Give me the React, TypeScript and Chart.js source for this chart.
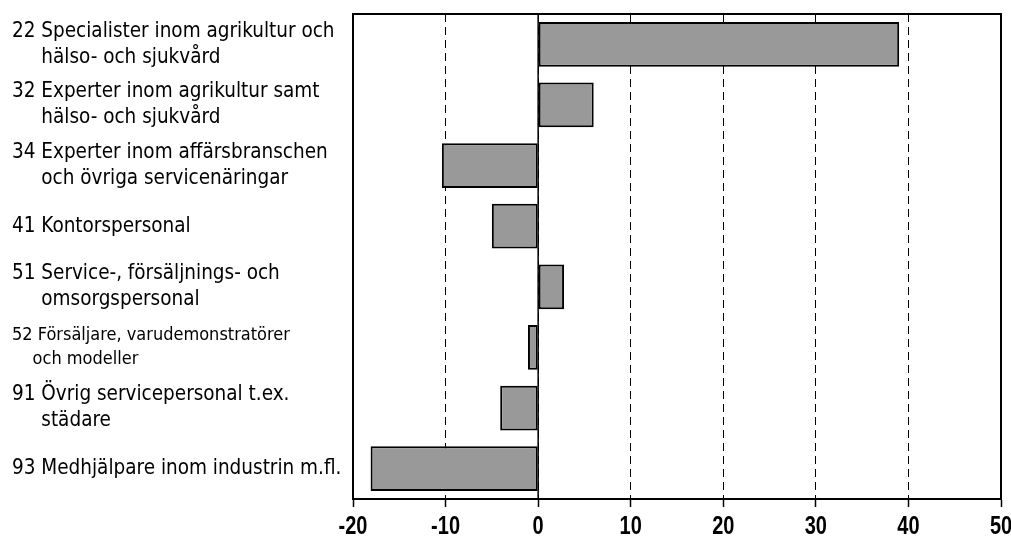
import React, { useEffect, useRef } from 'react';
import { Chart, registerables } from 'chart.js';

Chart.register(...registerables);

const categories: string[][] = [
  ['22 Specialister inom agrikultur och', '     hälso- och sjukvård'],
  ['32 Experter inom agrikultur samt', '     hälso- och sjukvård'],
  ['34 Experter inom affärsbranschen', '     och övriga servicenäringar'],
  ['41 Kontorspersonal'],
  ['51 Service-, försäljnings- och', '     omsorgspersonal'],
  ['52 Försäljare, varudemonstratörer', '    och modeller'],
  ['91 Övrig servicepersonal t.ex.', '     städare'],
  ['93 Medhjälpare inom industrin m.fl.'],
];

const values: number[] = [39, 6, -10.4, -5, 2.8, -1.1, -4.1, -18.1];

const xTicks: number[] = [-20, -10, 0, 10, 20, 30, 40, 50];

const FONT = "'Liberation Sans Narrow', 'Arial Narrow', 'DejaVu Sans Condensed', sans-serif";
const TICK_FONT = "'Liberation Sans', Arial, sans-serif";

const framePlugin = {
  id: 'frame',
  beforeDatasetsDraw(chart: any) {
    const { ctx, chartArea, scales } = chart;
    const x0 = scales.x.getPixelForValue(0);
    ctx.save();
    ctx.strokeStyle = '#000';
    ctx.lineWidth = 1.5;
    ctx.beginPath();
    ctx.moveTo(x0, chartArea.top);
    ctx.lineTo(x0, chartArea.bottom);
    ctx.stroke();
    ctx.restore();
  },
  afterDraw(chart: any) {
    const { ctx, chartArea, scales } = chart;
    ctx.save();
    ctx.strokeStyle = '#000';
    ctx.lineWidth = 2;
    ctx.strokeRect(chartArea.left, chartArea.top, chartArea.right - chartArea.left, chartArea.bottom - chartArea.top);
    ctx.restore();

    // condensed bold x tick labels, positioned by the x scale
    const xs = scales.x;
    ctx.save();
    ctx.fillStyle = '#000';
    ctx.font = `bold 25px ${TICK_FONT}`;
    ctx.textAlign = 'center';
    ctx.textBaseline = 'alphabetic';
    xs.ticks.forEach((t: any) => {
      const px = xs.getPixelForValue(t.value);
      ctx.save();
      ctx.translate(px, chartArea.bottom + 35);
      ctx.scale(0.8, 1);
      ctx.fillText(String(t.value), 0, 0);
      ctx.restore();
    });
    ctx.restore();
  },
};

export default function App() {
  const ref = useRef<HTMLCanvasElement | null>(null);

  useEffect(() => {
    document.body.style.margin = '0';
    const canvas = ref.current;
    if (!canvas) return;
    const chart = new Chart(canvas, {
      type: 'bar',
      data: {
        labels: categories,
        datasets: [
          {
            data: values,
            backgroundColor: '#999999',
            borderColor: '#000',
            borderWidth: 2,
            borderSkipped: false,
            categoryPercentage: 0.74,
            barPercentage: 1,
          },
        ],
      },
      options: {
        indexAxis: 'y',
        animation: false,
        responsive: false,
        maintainAspectRatio: false,
        layout: { padding: { top: 14, right: 10, bottom: 0, left: 12 } },
        plugins: {
          legend: { display: false },
          tooltip: { enabled: false },
        },
        scales: {
          x: {
            type: 'linear',
            min: -20,
            max: 50,
            afterBuildTicks: (scale: any) => {
              scale.ticks = xTicks.map((v) => ({ value: v }));
            },
            afterFit: (scale: any) => {
              scale.height = 39;
              scale.paddingLeft = 0;
              scale.paddingRight = 0;
            },
            grid: {
              color: '#000',
              lineWidth: 1,
              tickLength: 8,
              tickColor: '#000',
              tickWidth: 1.5,
            },
            border: {
              display: true,
              color: '#000',
              width: 2,
              dash: [8, 5],
            },
            ticks: {
              color: 'rgba(0,0,0,0)',
              padding: 5,
              maxRotation: 0,
              font: { family: TICK_FONT, size: 20, weight: 'bold' },
            },
          },
          y: {
            afterFit: (scale: any) => {
              scale.width = 341;
            },
            grid: { display: false },
            border: { display: true, color: '#000', width: 2 },
            ticks: {
              color: '#000',
              crossAlign: 'far',
              padding: 0,
              autoSkip: false,
              font: (ctx: any) => ({
                family: FONT,
                size: ctx.index === 5 ? 18 : 20.5,
                lineHeight: ctx.index === 5 ? 1.35 : 1.27,
              }),
            },
          },
        },
      },
      plugins: [framePlugin],
    } as any);
    return () => chart.destroy();
  }, []);

  return (
    <div style={{ position: 'fixed', left: 0, top: 0, width: 1011, height: 538, background: '#fff' }}>
      <canvas ref={ref} width={1011} height={538} style={{ width: 1011, height: 538, display: 'block' }} />
    </div>
  );
}
